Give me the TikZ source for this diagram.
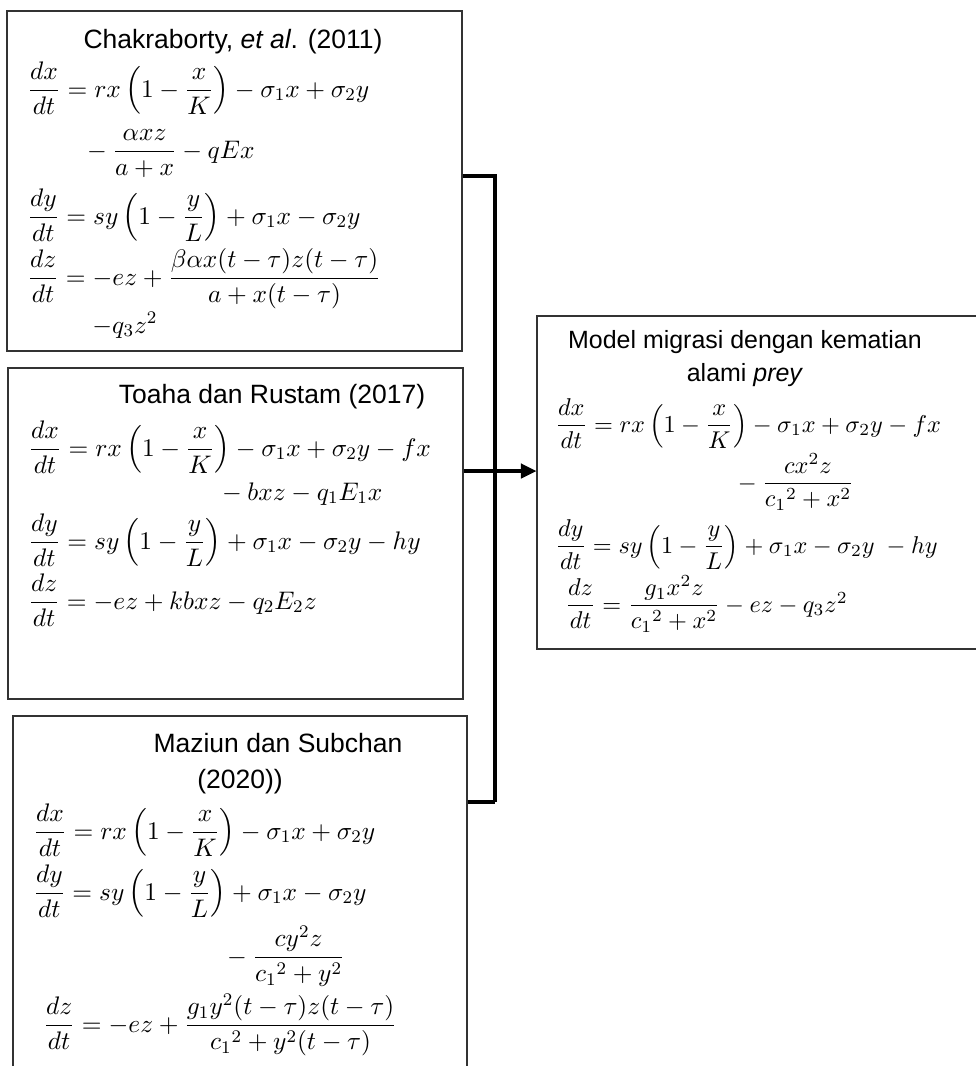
\RequirePackage{fix-cm}
\documentclass[tikz,border=0pt]{standalone}
\usepackage{amsmath}
\usepackage[no-math]{fontspec}
\setmainfont{Liberation Sans}
\usetikzlibrary{arrows.meta,positioning,fit}
\tikzset{
  refbox/.style={draw=black!80, line width=0.5pt, inner sep=0pt},
  headtxt/.style={font=\fontsize{12}{14}\selectfont, inner sep=0pt, anchor=base},
  eqtxt/.style={font=\fontsize{11.5}{14}\selectfont, inner sep=0pt, anchor=base west},
  modelhead/.style={font=\fontsize{11.3}{13}\selectfont},
  modeltxt/.style={font=\fontsize{11}{13}\selectfont},
  conn/.style={line width=1.4pt},
  arr/.style={-{Triangle[length=7pt,width=6.5pt]}, line width=1.4pt},
}
\newcommand{\ddt}[1]{\dfrac{d#1}{dt}}

\begin{document}
\begin{tikzpicture}[x=0.453pt, y=-0.453pt]
  \clip (0,0) rectangle (976,1066);
  % The four boxes
  \node[refbox, fit={(7,11) (462,351)}] (chak) {};
  \node[refbox, fit={(8,368) (463,699)}] (toaha) {};
  \node[refbox, fit={(13,716) (467,1090)}] (maziun) {};
  \node[refbox, fit={(537,316) (990,649)}] (model) {};

  % Chakraborty et al.
  \node[headtxt] (chaktitle) at (233,48) {Chakraborty, \textit{et al}. (2011)};
  \node[eqtxt] (chakdx) at (27,97)
    {$\ddt{x} = rx\left(1-\dfrac{x}{K}\right) - \sigma_1 x + \sigma_2 y$};
  \node[eqtxt] (chakdxb) at (81,158) {${}-\dfrac{\alpha xz}{a+x} - qEx$};
  \node[eqtxt] (chakdy) at (27,224)
    {$\ddt{y} = sy\left(1-\dfrac{y}{L}\right) + \sigma_1 x - \sigma_2 y$};
  \node[eqtxt] (chakdz) at (27,285)
    {$\ddt{z} = -ez + \dfrac{\beta\alpha x(t-\tau)z(t-\tau)}{a+x(t-\tau)}$};
  \node[eqtxt] (chakdzb) at (92,333) {$-q_3 z^2$};

  % Toaha dan Rustam
  \node[headtxt] (toahatitle) at (272,403) {Toaha dan Rustam (2017)};
  \node[eqtxt] (toahadx) at (28,456)
    {$\ddt{x} = rx\left(1-\dfrac{x}{K}\right) - \sigma_1 x + \sigma_2 y - fx$};
  \node[eqtxt] (toahadxb) at (216,500) {${}- bxz - q_1E_1x$};
  \node[eqtxt] (toahady) at (28,549)
    {$\ddt{y} = sy\left(1-\dfrac{y}{L}\right) + \sigma_1 x - \sigma_2 y - hy$};
  \node[eqtxt] (toahadz) at (28,609) {$\ddt{z} = -ez + kbxz - q_2E_2z$};

  % Maziun dan Subchan
  \node[headtxt] (maztitle) at (278,752) {Maziun dan Subchan};
  \node[headtxt] (mazyear) at (240,788) {(2020))};
  \node[eqtxt] (mazdx) at (33,839)
    {$\ddt{x} = rx\left(1-\dfrac{x}{K}\right) - \sigma_1 x + \sigma_2 y$};
  \node[eqtxt] (mazdy) at (33,900)
    {$\ddt{y} = sy\left(1-\dfrac{y}{L}\right) + \sigma_1 x - \sigma_2 y$};
  \node[eqtxt] (mazdyb) at (221,964) {${}-\dfrac{cy^2z}{{c_1}^2+y^2}$};
  \node[eqtxt] (mazdz) at (43,1032)
    {$\ddt{z} = -ez + \dfrac{g_1y^2(t-\tau)z(t-\tau)}{{c_1}^2+y^2(t-\tau)}$};

  % New model
  \node[headtxt, modelhead] (modeltitle) at (745,348) {Model migrasi dengan kematian};
  \node[headtxt, modelhead] (modeltitleb) at (745,381) {alami \textit{prey}};
  \node[eqtxt, modeltxt] (modeldx) at (555,432)
    {$\ddt{x} = rx\left(1-\dfrac{x}{K}\right) - \sigma_1 x + \sigma_2 y - fx$};
  \node[eqtxt, modeltxt] (modeldxb) at (732,490) {${}-\dfrac{cx^2z}{{c_1}^2+x^2}$};
  \node[eqtxt, modeltxt] (modeldy) at (555,553)
    {$\ddt{y} = sy\left(1-\dfrac{y}{L}\right) + \sigma_1 x - \sigma_2 y\ - hy$};
  \node[eqtxt, modeltxt] (modeldz) at (565,612)
    {$\ddt{z} = \dfrac{g_1x^2z}{{c_1}^2+x^2} - ez - q_3z^2$};

  % Connectors
  \coordinate (jtop) at (495,176);
  \coordinate (jmid) at (495,471);
  \coordinate (jbot) at (495,802);
  \draw[conn] (chak.east |- jtop) -- (jtop) -- (jbot);
  \draw[conn] (maziun.east |- jbot) -- (jbot);
  \draw[arr] (toaha.east |- jmid) -- (model.west |- jmid);
\end{tikzpicture}
\end{document}
